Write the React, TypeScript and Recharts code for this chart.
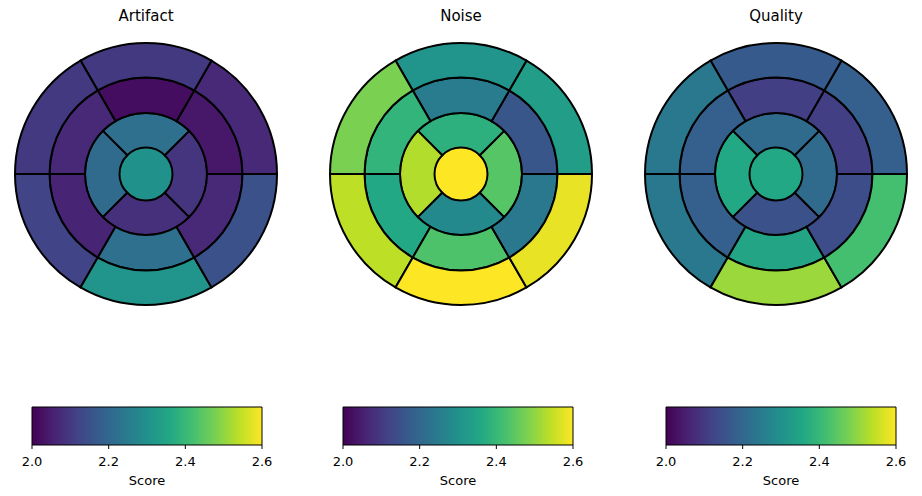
import { Bar, BarChart, Cell, Pie, PieChart, XAxis, YAxis } from 'recharts';

const titles = ['Artifact', 'Noise', 'Quality'];
const scoreTicks = [2.0, 2.2, 2.4, 2.6];

// 6-segment rings: start at 3 o'clock, counter-clockwise, 60° each
// apical ring: right, top, left, bottom
const artifactBasal = [2.07, 2.1, 2.1, 2.12, 2.31, 2.15];
const artifactMid = [2.04, 2.02, 2.07, 2.06, 2.22, 2.07];
const artifactApical = [2.09, 2.22, 2.21, 2.08];
const artifactApex = [2.3];

const noiseBasal = [2.33, 2.31, 2.48, 2.54, 2.6, 2.58];
const noiseMid = [2.16, 2.25, 2.39, 2.36, 2.43, 2.24];
const noiseApical = [2.44, 2.38, 2.53, 2.28];
const noiseApex = [2.6];

const qualityBasal = [2.18, 2.17, 2.24, 2.24, 2.51, 2.42];
const qualityMid = [2.11, 2.11, 2.18, 2.18, 2.35, 2.14];
const qualityApical = [2.21, 2.21, 2.36, 2.15];
const qualityApex = [2.36];

const VMIN = 2.0;
const VMAX = 2.6;

const viridisStops = [
  '#440154', '#482475', '#414487', '#355f8d', '#2a788e', '#21918c',
  '#22a884', '#44bf70', '#7ad151', '#bddf26', '#fde725',
];

const hex = (c: string) => [1, 3, 5].map((i) => parseInt(c.slice(i, i + 2), 16));

const viridis = (v: number) => {
  const t = Math.min(1, Math.max(0, (v - VMIN) / (VMAX - VMIN))) * (viridisStops.length - 1);
  const i = Math.min(viridisStops.length - 2, Math.floor(t));
  const f = t - i;
  const a = hex(viridisStops[i]);
  const b = hex(viridisStops[i + 1]);
  const rgb = a.map((x, k) => Math.round(x + (b[k] - x) * f));
  return `rgb(${rgb.join(',')})`;
};

const panels = [
  { basal: artifactBasal, mid: artifactMid, apical: artifactApical, apex: artifactApex },
  { basal: noiseBasal, mid: noiseMid, apical: noiseApical, apex: noiseApex },
  { basal: qualityBasal, mid: qualityMid, apical: qualityApical, apex: qualityApex },
];

const centersX = [146, 461, 776];
const CY = 174;
const barLefts = [22, 333, 656];

const ring = (values: number[]) => values.map((score) => ({ score, size: 1 }));

const Ring = (values: number[], cx: number, inner: number, outer: number, start: number, key: string, stroke = '#000') => (
  <Pie
    key={key}
    data={ring(values)}
    dataKey="size"
    cx={cx}
    cy={CY}
    innerRadius={inner}
    outerRadius={outer}
    startAngle={start}
    endAngle={start + 360}
    stroke={stroke}
    strokeWidth={2}
    isAnimationActive={false}
  >
    {values.map((v, i) => (
      <Cell key={i} fill={viridis(v)} />
    ))}
  </Pie>
);

const ScoreBar: React.FC<{ idx: number }> = ({ idx }) => (
  <div style={{ position: 'absolute', left: barLefts[idx], top: 402 }}>
    <BarChart
      width={250}
      height={88}
      layout="vertical"
      data={[{ name: 'Score', range: [VMIN, VMAX] }]}
      margin={{ top: 5, right: 10, left: 10, bottom: 5 }}
      barCategoryGap={0}
    >
      <defs>
        <linearGradient id={`viridis-${idx}`} x1="0" y1="0" x2="1" y2="0">
          {viridisStops.map((c, i) => (
            <stop key={i} offset={`${i * 10}%`} stopColor={c} />
          ))}
        </linearGradient>
      </defs>
      <YAxis type="category" dataKey="name" hide />
      <XAxis
        type="number"
        domain={[VMIN, VMAX]}
        ticks={scoreTicks}
        interval={0}
        height={40}
        tickSize={4}
        tickMargin={8}
        axisLine={false}
        tickLine={{ stroke: '#000' }}
        tick={{ fill: '#000', fontSize: 13, fontFamily: 'DejaVu Sans' }}
        tickFormatter={(v) => Number(v).toFixed(1)}
        label={{ value: 'Score', position: 'insideBottom', offset: 0, fill: '#000', fontSize: 13, fontFamily: 'DejaVu Sans' }}
      />
      <Bar dataKey="range" fill={`url(#viridis-${idx})`} stroke="#000" strokeWidth={1} isAnimationActive={false} />
    </BarChart>
  </div>
);

export default function App() {
  return (
    <div style={{ position: 'absolute', left: 0, top: 0, width: 922, height: 496, background: '#fff', fontFamily: 'DejaVu Sans' }}>
      <div style={{ position: 'absolute', left: 0, top: 0 }}>
        <PieChart width={922} height={320} margin={{ top: 0, right: 0, bottom: 0, left: 0 }}>
          {panels.map((p, k) => [
            Ring(p.apex, centersX[k], 0, 26.5, 0, `x${k}`, 'none'),
            Ring(p.apical, centersX[k], 26.5, 61, -45, `a${k}`),
            Ring(p.mid, centersX[k], 61, 96.5, 0, `m${k}`),
            Ring(p.basal, centersX[k], 96.5, 131, 0, `b${k}`),
          ])}
          {titles.map((t, k) => (
            <text key={t} x={centersX[k]} y={21} textAnchor="middle" fontSize={15} fontFamily="DejaVu Sans" fill="#000">
              {t}
            </text>
          ))}
        </PieChart>
      </div>
      {titles.map((t, k) => (
        <ScoreBar key={t} idx={k} />
      ))}
    </div>
  );
}
